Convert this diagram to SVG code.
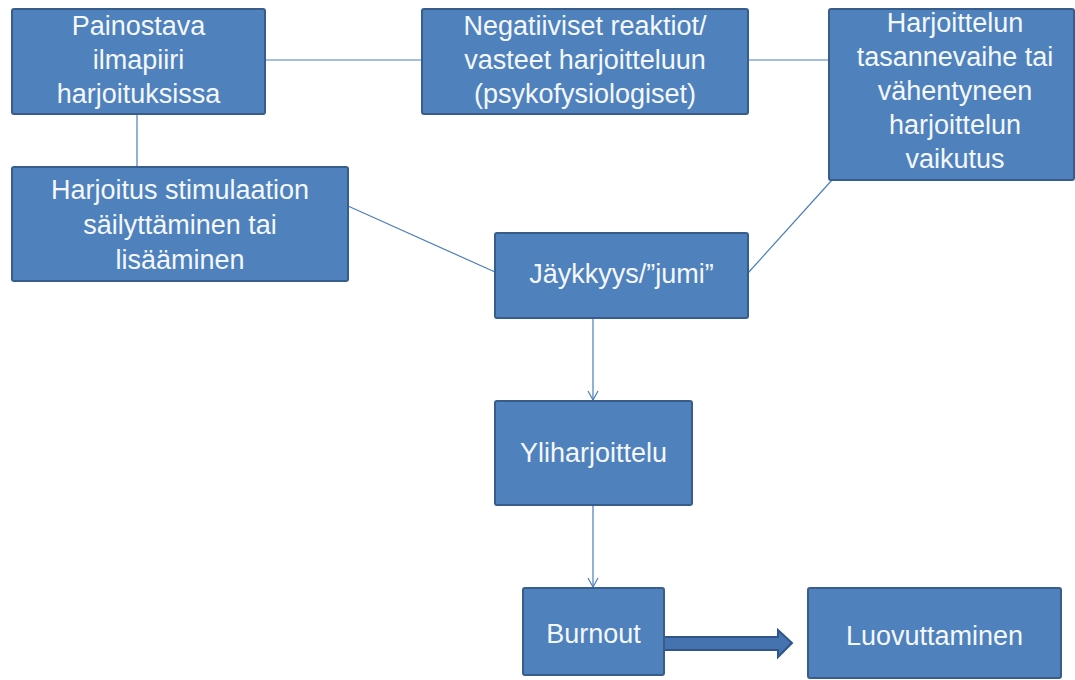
<svg xmlns="http://www.w3.org/2000/svg" width="1075" height="680" viewBox="0 0 1075 680">
<defs>
<style>
.box{fill:#4F81BD;stroke:#385D8A;stroke-width:2}
.t{font-family:"Liberation Sans",Arial,sans-serif;font-size:27px;fill:#F4F8FC;text-anchor:middle}
.c{stroke:#4A7EBB;stroke-width:1.2;fill:none}
</style>
<marker id="v" markerWidth="12" markerHeight="12" refX="10" refY="6" orient="auto" markerUnits="userSpaceOnUse">
<path d="M1,1 L10,6 L1,11" fill="none" stroke="#4A7EBB" stroke-width="1.2"/>
</marker>
</defs>
<rect width="1075" height="680" fill="#FFFFFF"/>
<g id="connectors">
<line class="c" x1="265" y1="60" x2="422" y2="60"/>
<line class="c" x1="748" y1="60" x2="829" y2="60"/>
<line class="c" x1="137" y1="114" x2="137" y2="167"/>
<line class="c" x1="348" y1="206" x2="495" y2="272"/>
<line class="c" x1="832" y1="180" x2="748" y2="273"/>
<line class="c" x1="593" y1="318" x2="593" y2="400" marker-end="url(#v)"/>
<line class="c" x1="593" y1="505" x2="593" y2="587" marker-end="url(#v)"/>
<polygon points="664,637 778,637 778,630 792,643 778,657 778,650 664,650" fill="#4473B0" stroke="#2F5589" stroke-width="2"/>
</g>
<g id="n1">
<rect class="box" x="12" y="9" width="253" height="105" rx="2"/>
<text class="t" x="138.5" y="35">Painostava</text>
<text class="t" x="138.5" y="69">ilmapiiri</text>
<text class="t" x="138.5" y="103">harjoituksissa</text>
</g>
<g id="n2">
<rect class="box" x="422" y="9" width="326" height="105" rx="2"/>
<text class="t" x="585" y="35">Negatiiviset reaktiot/</text>
<text class="t" x="585" y="69">vasteet harjoitteluun</text>
<text class="t" x="585" y="103">(psykofysiologiset)</text>
</g>
<g id="n3">
<rect class="box" x="829" y="9" width="245" height="171" rx="2"/>
<text class="t" x="955" y="32">Harjoittelun</text>
<text class="t" x="955" y="66">tasannevaihe tai</text>
<text class="t" x="955" y="100">vähentyneen</text>
<text class="t" x="955" y="134">harjoittelun</text>
<text class="t" x="955" y="168">vaikutus</text>
</g>
<g id="n4">
<rect class="box" x="12" y="167" width="336" height="114" rx="2"/>
<text class="t" x="180" y="199">Harjoitus stimulaation</text>
<text class="t" x="180" y="234">säilyttäminen tai</text>
<text class="t" x="180" y="269">lisääminen</text>
</g>
<g id="n5">
<rect class="box" x="495" y="233" width="253" height="85" rx="2"/>
<text class="t" x="621.5" y="283">Jäykkyys/”jumi”</text>
</g>
<g id="n6">
<rect class="box" x="495" y="401" width="197" height="104" rx="2"/>
<text class="t" x="593.5" y="462">Yliharjoittelu</text>
</g>
<g id="n7">
<rect class="box" x="523" y="588" width="141" height="87" rx="2"/>
<text class="t" x="593.5" y="643">Burnout</text>
</g>
<g id="n8">
<rect class="box" x="808" y="588" width="253" height="90" rx="2"/>
<text class="t" x="934.5" y="645">Luovuttaminen</text>
</g>
</svg>
